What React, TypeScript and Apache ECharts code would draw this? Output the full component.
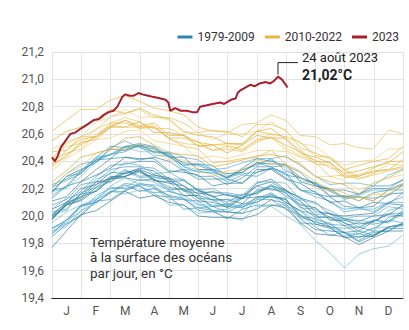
import React, { useEffect, useRef } from "react";
import * as echarts from "echarts";

const monthLabels = ["J", "F", "M", "A", "M", "J", "J", "A", "S", "O", "N", "D"];
const legendNames = ["1979-2009", "2010-2022", "2023"];

// day of year of each sample (half-month steps)
const sampleDays = [0, 15, 30, 46, 61, 76, 91, 106, 122, 137, 152, 167, 182, 198, 213, 228, 243, 258, 274, 289, 304, 319, 334, 350, 365];

// 1979 ... 2009
const years1979to2009: number[][] = [
  [19.85, 19.94, 20.00, 20.11, 20.12, 20.19, 20.22, 20.15, 20.14, 20.05, 20.06, 20.04, 19.98, 20.05, 20.08, 20.08, 20.08, 19.95, 19.94, 19.91, 19.85, 19.87, 19.85, 19.92, 19.94],
  [19.91, 19.95, 20.07, 20.12, 20.21, 20.20, 20.23, 20.21, 20.12, 20.12, 20.06, 20.07, 20.03, 20.02, 20.12, 20.12, 20.05, 20.01, 19.92, 19.86, 19.88, 19.84, 19.89, 19.89, 19.95],
  [19.87, 19.97, 20.07, 20.10, 20.17, 20.23, 20.18, 20.20, 20.15, 20.13, 20.04, 20.03, 20.03, 20.02, 20.05, 20.12, 20.09, 19.98, 19.90, 19.89, 19.88, 19.81, 19.86, 19.91, 19.91],
  [19.91, 19.97, 20.03, 20.15, 20.20, 20.21, 20.27, 20.25, 20.18, 20.15, 20.15, 20.07, 20.07, 20.13, 20.17, 20.22, 20.14, 20.09, 20.06, 19.97, 19.97, 19.97, 19.95, 20.04, 20.07],
  [20.01, 20.10, 20.14, 20.25, 20.25, 20.32, 20.34, 20.26, 20.25, 20.15, 20.15, 20.12, 20.06, 20.13, 20.14, 20.14, 20.13, 20.00, 19.98, 19.94, 19.88, 19.89, 19.86, 19.92, 19.94],
  [19.88, 19.92, 20.04, 20.09, 20.18, 20.16, 20.19, 20.17, 20.08, 20.08, 20.02, 20.03, 19.99, 19.97, 20.07, 20.07, 20.00, 19.94, 19.82, 19.73, 19.62, 19.72, 19.76, 19.78, 19.86],
  [19.77, 19.89, 20.01, 20.04, 20.11, 20.18, 20.13, 20.15, 20.10, 20.08, 20.00, 19.99, 19.99, 19.98, 20.01, 20.08, 20.06, 19.95, 19.87, 19.86, 19.85, 19.79, 19.84, 19.89, 19.89],
  [19.89, 19.94, 20.01, 20.12, 20.18, 20.18, 20.24, 20.22, 20.14, 20.12, 20.11, 20.04, 20.03, 20.08, 20.13, 20.17, 20.10, 20.04, 20.01, 19.92, 19.91, 19.92, 19.89, 19.99, 20.01],
  [20.03, 20.05, 20.16, 20.25, 20.27, 20.34, 20.29, 20.30, 20.27, 20.19, 20.20, 20.14, 20.10, 20.16, 20.16, 20.22, 20.19, 20.08, 20.06, 19.97, 19.97, 19.94, 19.96, 20.02, 20.02],
  [19.98, 20.08, 20.16, 20.18, 20.27, 20.29, 20.32, 20.27, 20.19, 20.20, 20.13, 20.07, 20.09, 20.07, 20.10, 20.16, 20.10, 20.04, 19.94, 19.92, 19.88, 19.82, 19.88, 19.89, 19.95],
  [19.91, 19.97, 20.08, 20.10, 20.18, 20.24, 20.22, 20.17, 20.18, 20.15, 20.09, 20.04, 20.05, 20.09, 20.10, 20.15, 20.12, 20.01, 19.95, 19.94, 19.93, 19.87, 19.91, 19.97, 19.95],
  [19.98, 20.08, 20.11, 20.19, 20.28, 20.31, 20.33, 20.26, 20.24, 20.22, 20.13, 20.12, 20.12, 20.09, 20.19, 20.20, 20.17, 20.07, 19.99, 19.99, 19.95, 19.89, 19.96, 20.01, 20.00],
  [20.01, 20.04, 20.17, 20.21, 20.25, 20.33, 20.28, 20.29, 20.26, 20.19, 20.19, 20.11, 20.12, 20.13, 20.18, 20.22, 20.15, 20.11, 20.00, 19.99, 19.98, 19.92, 19.97, 19.96, 20.03],
  [19.97, 20.09, 20.14, 20.18, 20.27, 20.28, 20.26, 20.27, 20.21, 20.19, 20.11, 20.10, 20.07, 20.06, 20.14, 20.14, 20.12, 19.99, 19.96, 19.92, 19.84, 19.85, 19.85, 19.92, 19.93],
  [19.95, 20.03, 20.08, 20.13, 20.22, 20.28, 20.23, 20.23, 20.20, 20.13, 20.08, 20.08, 20.08, 20.06, 20.12, 20.16, 20.07, 20.04, 19.97, 19.95, 19.87, 19.87, 19.91, 19.92, 19.93],
  [19.99, 20.08, 20.12, 20.21, 20.29, 20.29, 20.34, 20.30, 20.28, 20.22, 20.16, 20.18, 20.15, 20.13, 20.24, 20.27, 20.19, 20.13, 20.10, 20.01, 20.00, 20.01, 20.02, 20.09, 20.08],
  [20.08, 20.12, 20.23, 20.25, 20.34, 20.36, 20.36, 20.35, 20.27, 20.27, 20.18, 20.17, 20.17, 20.15, 20.22, 20.19, 20.19, 20.11, 20.01, 20.02, 19.95, 19.91, 19.97, 19.95, 20.02],
  [19.99, 20.09, 20.13, 20.23, 20.28, 20.29, 20.33, 20.28, 20.27, 20.18, 20.17, 20.15, 20.08, 20.14, 20.17, 20.23, 20.17, 20.06, 20.05, 19.99, 19.93, 19.95, 19.94, 19.96, 20.04],
  [20.05, 20.10, 20.18, 20.29, 20.37, 20.38, 20.40, 20.40, 20.32, 20.34, 20.29, 20.29, 20.23, 20.28, 20.36, 20.36, 20.30, 20.28, 20.24, 20.18, 20.14, 20.16, 20.20, 20.20, 20.27],
  [20.21, 20.31, 20.38, 20.40, 20.50, 20.55, 20.50, 20.47, 20.46, 20.36, 20.32, 20.32, 20.28, 20.31, 20.32, 20.35, 20.32, 20.19, 20.14, 20.11, 20.03, 20.05, 20.05, 20.10, 20.10],
  [20.00, 20.10, 20.20, 20.23, 20.32, 20.31, 20.35, 20.33, 20.25, 20.26, 20.19, 20.14, 20.16, 20.13, 20.22, 20.25, 20.18, 20.14, 20.03, 20.02, 19.98, 19.96, 20.00, 20.01, 20.08],
  [20.05, 20.13, 20.16, 20.27, 20.31, 20.39, 20.37, 20.31, 20.32, 20.26, 20.19, 20.20, 20.15, 20.15, 20.25, 20.25, 20.24, 20.12, 20.09, 20.04, 19.98, 20.00, 20.00, 20.07, 20.05],
  [20.13, 20.22, 20.25, 20.34, 20.42, 20.43, 20.41, 20.43, 20.40, 20.33, 20.27, 20.27, 20.27, 20.24, 20.32, 20.35, 20.28, 20.19, 20.16, 20.14, 20.07, 20.06, 20.10, 20.09, 20.17],
  [20.18, 20.20, 20.29, 20.40, 20.45, 20.51, 20.47, 20.47, 20.45, 20.36, 20.34, 20.33, 20.27, 20.34, 20.38, 20.41, 20.35, 20.26, 20.24, 20.19, 20.12, 20.15, 20.19, 20.19, 20.24],
  [20.17, 20.29, 20.34, 20.39, 20.49, 20.48, 20.52, 20.50, 20.43, 20.43, 20.34, 20.34, 20.31, 20.32, 20.39, 20.38, 20.38, 20.25, 20.22, 20.20, 20.13, 20.14, 20.11, 20.19, 20.23],
  [20.21, 20.26, 20.31, 20.42, 20.45, 20.47, 20.52, 20.47, 20.46, 20.38, 20.37, 20.33, 20.28, 20.34, 20.37, 20.42, 20.33, 20.28, 20.23, 20.14, 20.15, 20.11, 20.17, 20.19, 20.19],
  [20.23, 20.27, 20.33, 20.43, 20.51, 20.50, 20.53, 20.51, 20.44, 20.39, 20.38, 20.37, 20.29, 20.32, 20.39, 20.36, 20.37, 20.28, 20.24, 20.15, 20.14, 20.14, 20.13, 20.15, 20.23],
  [20.19, 20.21, 20.32, 20.41, 20.42, 20.51, 20.51, 20.49, 20.43, 20.37, 20.38, 20.34, 20.28, 20.35, 20.42, 20.40, 20.37, 20.32, 20.22, 20.19, 20.19, 20.16, 20.22, 20.22, 20.26],
  [20.18, 20.29, 20.31, 20.41, 20.45, 20.49, 20.51, 20.44, 20.44, 20.34, 20.33, 20.31, 20.25, 20.30, 20.29, 20.35, 20.31, 20.19, 20.18, 20.10, 20.05, 20.06, 20.03, 20.10, 20.14],
  [20.11, 20.14, 20.25, 20.30, 20.35, 20.43, 20.42, 20.42, 20.33, 20.32, 20.30, 20.22, 20.24, 20.24, 20.34, 20.34, 20.27, 20.24, 20.17, 20.10, 20.11, 20.06, 20.07, 20.16, 20.17],
  [20.15, 20.22, 20.33, 20.43, 20.45, 20.51, 20.53, 20.46, 20.47, 20.43, 20.41, 20.34, 20.35, 20.39, 20.42, 20.42, 20.44, 20.37, 20.29, 20.23, 20.24, 20.24, 20.22, 20.30, 20.34],
];

// 2010 ... 2022
const years2010to2022: number[][] = [
  [20.47, 20.48, 20.58, 20.58, 20.66, 20.70, 20.64, 20.65, 20.57, 20.51, 20.49, 20.39, 20.40, 20.42, 20.43, 20.48, 20.38, 20.33, 20.25, 20.20, 20.17, 20.11, 20.16, 20.16, 20.22],
  [20.21, 20.31, 20.36, 20.46, 20.49, 20.49, 20.53, 20.48, 20.41, 20.41, 20.34, 20.29, 20.33, 20.33, 20.41, 20.39, 20.37, 20.29, 20.20, 20.19, 20.13, 20.14, 20.11, 20.19, 20.24],
  [20.25, 20.33, 20.43, 20.46, 20.49, 20.57, 20.58, 20.52, 20.46, 20.45, 20.44, 20.36, 20.38, 20.41, 20.44, 20.45, 20.43, 20.38, 20.29, 20.25, 20.23, 20.16, 20.24, 20.28, 20.34],
  [20.33, 20.42, 20.48, 20.56, 20.57, 20.62, 20.63, 20.55, 20.53, 20.51, 20.42, 20.44, 20.42, 20.45, 20.48, 20.48, 20.47, 20.39, 20.29, 20.29, 20.26, 20.19, 20.24, 20.28, 20.30],
  [20.38, 20.43, 20.54, 20.56, 20.65, 20.70, 20.66, 20.68, 20.59, 20.59, 20.54, 20.52, 20.53, 20.53, 20.62, 20.60, 20.58, 20.54, 20.44, 20.43, 20.34, 20.37, 20.40, 20.42, 20.51],
  [20.42, 20.53, 20.58, 20.63, 20.73, 20.75, 20.78, 20.72, 20.72, 20.68, 20.61, 20.63, 20.61, 20.67, 20.68, 20.74, 20.70, 20.59, 20.58, 20.52, 20.53, 20.50, 20.49, 20.63, 20.60],
  [20.62, 20.70, 20.78, 20.78, 20.85, 20.88, 20.84, 20.79, 20.77, 20.74, 20.65, 20.62, 20.62, 20.58, 20.67, 20.67, 20.63, 20.50, 20.46, 20.42, 20.34, 20.29, 20.35, 20.40, 20.40],
  [20.43, 20.51, 20.53, 20.64, 20.68, 20.72, 20.69, 20.64, 20.64, 20.59, 20.51, 20.52, 20.52, 20.49, 20.55, 20.60, 20.50, 20.44, 20.41, 20.35, 20.33, 20.27, 20.31, 20.38, 20.37],
  [20.36, 20.45, 20.52, 20.58, 20.65, 20.65, 20.69, 20.61, 20.61, 20.59, 20.51, 20.52, 20.46, 20.52, 20.59, 20.57, 20.57, 20.48, 20.40, 20.39, 20.31, 20.33, 20.36, 20.39, 20.47],
  [20.49, 20.54, 20.58, 20.69, 20.72, 20.78, 20.72, 20.73, 20.70, 20.61, 20.61, 20.56, 20.60, 20.60, 20.62, 20.69, 20.62, 20.53, 20.51, 20.43, 20.37, 20.40, 20.41, 20.49, 20.49],
  [20.55, 20.62, 20.65, 20.71, 20.78, 20.75, 20.79, 20.74, 20.71, 20.62, 20.59, 20.58, 20.53, 20.52, 20.62, 20.64, 20.56, 20.46, 20.43, 20.39, 20.29, 20.30, 20.32, 20.34, 20.36],
  [20.41, 20.46, 20.49, 20.60, 20.66, 20.65, 20.65, 20.65, 20.56, 20.53, 20.52, 20.48, 20.49, 20.47, 20.54, 20.58, 20.48, 20.43, 20.39, 20.29, 20.30, 20.27, 20.30, 20.33, 20.35],
  [20.38, 20.48, 20.56, 20.58, 20.68, 20.68, 20.65, 20.66, 20.57, 20.57, 20.54, 20.48, 20.51, 20.48, 20.56, 20.57, 20.52, 20.47, 20.38, 20.37, 20.28, 20.29, 20.33, 20.34, 20.41],
];

// 2023 (readings up to early September)
const days2023 = [0, 3, 6, 9, 14, 19, 24, 30, 37, 43, 49, 54, 59, 64, 68, 73, 76, 81, 85, 90, 94, 100, 106, 113, 118, 121, 123, 128, 134, 140, 146, 151, 154, 161, 167, 175, 179, 186, 191, 193, 196, 201, 206, 211, 216, 222, 227, 231, 235, 239, 242, 245];
const values2023 = [20.43, 20.40, 20.44, 20.50, 20.55, 20.60, 20.61, 20.64, 20.67, 20.70, 20.71, 20.74, 20.76, 20.77, 20.80, 20.87, 20.89, 20.88, 20.88, 20.90, 20.89, 20.88, 20.87, 20.86, 20.85, 20.83, 20.77, 20.79, 20.77, 20.77, 20.76, 20.76, 20.80, 20.81, 20.82, 20.83, 20.82, 20.85, 20.86, 20.90, 20.92, 20.94, 20.96, 20.95, 20.97, 20.98, 20.97, 20.99, 21.02, 21.00, 20.97, 20.94];

const peakDay = 235;
const peakValue = 21.02;
const peakDateLabel = "24 août 2023";
const peakValueLabel = "21,02°C";
const noteLines = ["Température moyenne", "à la surface des océans", "par jour, en °C"];

const blueShades = ["#2b86b0", "#3a9fc9", "#1f78a4", "#4aa8cc", "#2e7f96", "#5fb6d8", "#27708a", "#3c93b8", "#3a8ea0"];
const goldShades = ["#e8b43a", "#f0c850", "#d9a62c", "#efd070", "#e4ae2a", "#e9be55"];
const redColor = "#a8202c";
const FONT = "Roboto, 'Liberation Sans', sans-serif";

export default function App() {
  const ref = useRef<HTMLDivElement>(null);

  useEffect(() => {
    if (!ref.current) return;
    const chart = echarts.init(ref.current, undefined, { renderer: "svg" });

    const series: any[] = [];
    years1979to2009.forEach((vals, i) => {
      const c = blueShades[i % blueShades.length];
      series.push({
        type: "line",
        name: legendNames[0],
        xAxisIndex: 0,
        data: vals.map((v, k) => [sampleDays[k], v]),
        showSymbol: false,
        silent: true,
        z: 2,
        color: c,
        lineStyle: { width: 0.8, opacity: 0.8, color: c },
      });
    });
    years2010to2022.forEach((vals, i) => {
      const c = goldShades[i % goldShades.length];
      series.push({
        type: "line",
        name: legendNames[1],
        xAxisIndex: 0,
        data: vals.map((v, k) => [sampleDays[k], v]),
        showSymbol: false,
        silent: true,
        z: 3,
        color: c,
        lineStyle: { width: 0.8, opacity: 0.85, color: c },
      });
    });
    series.push({
      type: "line",
      name: legendNames[2],
      xAxisIndex: 0,
      data: days2023.map((d, k) => [d, values2023[k]]),
      showSymbol: false,
      silent: true,
      z: 5,
      color: redColor,
      lineStyle: { width: 2, color: redColor },
    });

    const monthStep = 365 / 12;

    chart.setOption({
      animation: false,
      textStyle: { fontFamily: FONT },
      grid: { left: 52, right: 6, top: 52, bottom: 32 },
      legend: {
        right: 5,
        top: 26,
        icon: "rect",
        itemWidth: 15,
        itemHeight: 3,
        itemGap: 10,
        textStyle: { fontSize: 12, color: "#333", fontFamily: FONT },
        data: [
          { name: legendNames[0], itemStyle: { color: "#2b86b0" } },
          { name: legendNames[1], itemStyle: { color: "#e8b43a" } },
          { name: legendNames[2], itemStyle: { color: redColor } },
        ],
      },
      xAxis: [
        {
          type: "value",
          min: 0,
          max: 365,
          interval: monthStep,
          position: "bottom",
          axisLine: { show: true, lineStyle: { color: "#222", width: 1.2 } },
          axisTick: { show: false },
          axisLabel: { show: false },
          splitLine: { show: true, lineStyle: { color: "#e3e3e3", width: 1 } },
        },
        {
          type: "category",
          data: monthLabels,
          position: "bottom",
          offset: 0,
          boundaryGap: true,
          axisLine: { show: false },
          axisTick: { show: false },
          splitLine: { show: false },
          axisLabel: { color: "#555", fontSize: 12, margin: 7, fontFamily: FONT },
        },
      ],
      yAxis: {
        type: "value",
        min: 19.4,
        max: 21.2,
        interval: 0.2,
        axisLine: { show: false },
        axisTick: { show: false },
        splitLine: { lineStyle: { color: "#e3e3e3", width: 1 } },
        axisLabel: {
          color: "#555",
          fontSize: 12,
          margin: 8,
          fontFamily: FONT,
          padding: [0, 0, 8, 0],
          formatter: (v: number) => v.toFixed(1).replace(".", ","),
        },
      },
      series,
    });

    const p = chart.convertToPixel({ xAxisIndex: 0, yAxisIndex: 0 }, [peakDay, peakValue]) as number[];
    const px = p[0];
    const py = p[1];
    chart.setOption({
      graphic: [
        {
          type: "polyline",
          silent: true,
          shape: { points: [[px, py - 2], [px, py - 14], [px + 20, py - 14]] },
          style: { stroke: "#222", lineWidth: 1, fill: "none" },
          z: 10,
        },
        {
          type: "text",
          x: px + 24,
          y: py - 19,
          style: { text: peakDateLabel, font: `13px ${FONT}`, fill: "#222", verticalAlign: "middle" },
          z: 10,
        },
        {
          type: "text",
          x: px + 24,
          y: py - 2,
          style: { text: peakValueLabel, font: `bold 14px ${FONT}`, fill: "#222", verticalAlign: "middle" },
          z: 10,
        },
        {
          type: "text",
          x: 90,
          y: 234,
          style: { text: noteLines.join("\n"), font: `13.5px ${FONT}`, lineHeight: 15.5, fill: "#333" },
          z: 10,
        },
      ],
    });

    return () => chart.dispose();
  }, []);

  return <div ref={ref} style={{ width: 409, height: 330, position: "absolute", left: 0, top: 0 }} />;
}
